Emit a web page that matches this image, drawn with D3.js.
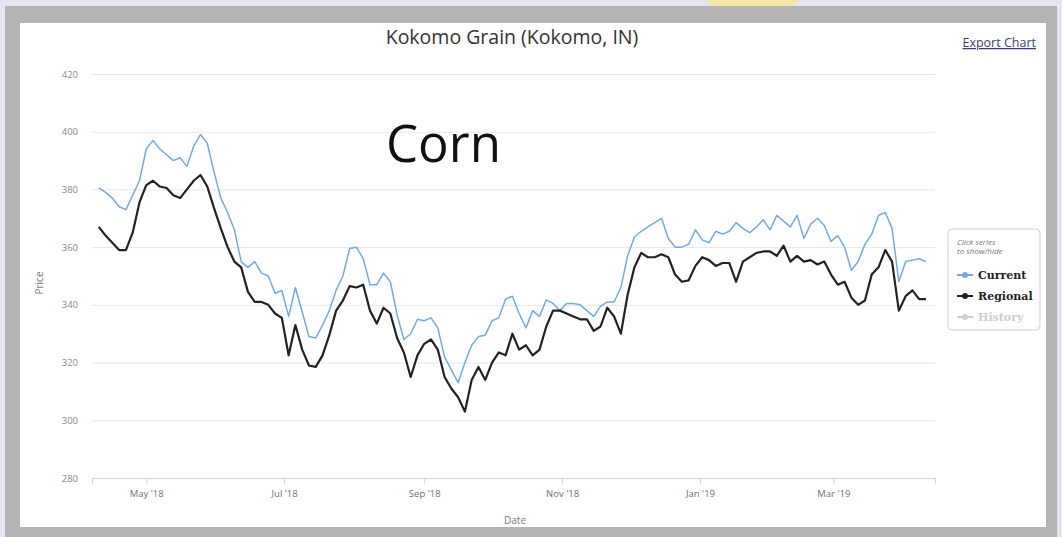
<!DOCTYPE html>
<html>
<head>
<meta charset="utf-8">
<script src="https://cdn.jsdelivr.net/npm/d3@7/dist/d3.min.js"></script>
<style>
  html, body { margin: 0; padding: 0; background: #e5e5f1; }
  svg { display: block; }
</style>
</head>
<body>
<svg id="chart" width="1062" height="537"></svg>
<script>
// trading dates (sampled every 3 days)
const dates = [
  '2018-04-10','2018-04-13','2018-04-16','2018-04-19','2018-04-22','2018-04-25','2018-04-28',
  '2018-05-01','2018-05-04','2018-05-07','2018-05-10','2018-05-13','2018-05-16','2018-05-19',
  '2018-05-22','2018-05-25','2018-05-28','2018-05-31','2018-06-03','2018-06-06','2018-06-09',
  '2018-06-12','2018-06-15','2018-06-18','2018-06-21','2018-06-24','2018-06-27','2018-06-30',
  '2018-07-03','2018-07-06','2018-07-09','2018-07-12','2018-07-15','2018-07-18','2018-07-21',
  '2018-07-24','2018-07-27','2018-07-30','2018-08-02','2018-08-05','2018-08-08','2018-08-11',
  '2018-08-14','2018-08-17','2018-08-20','2018-08-23','2018-08-26','2018-08-29','2018-09-01',
  '2018-09-04','2018-09-07','2018-09-10','2018-09-13','2018-09-16','2018-09-19','2018-09-22',
  '2018-09-25','2018-09-28','2018-10-01','2018-10-04','2018-10-07','2018-10-10','2018-10-13',
  '2018-10-16','2018-10-19','2018-10-22','2018-10-25','2018-10-28','2018-10-31','2018-11-03',
  '2018-11-06','2018-11-09','2018-11-12','2018-11-15','2018-11-18','2018-11-21','2018-11-24',
  '2018-11-27','2018-11-30','2018-12-03','2018-12-06','2018-12-09','2018-12-12','2018-12-15',
  '2018-12-18','2018-12-21','2018-12-24','2018-12-27','2018-12-30','2019-01-02','2019-01-05',
  '2019-01-08','2019-01-11','2019-01-14','2019-01-17','2019-01-20','2019-01-23','2019-01-26',
  '2019-01-29','2019-02-01','2019-02-04','2019-02-07','2019-02-10','2019-02-13','2019-02-16',
  '2019-02-19','2019-02-22','2019-02-25','2019-02-28','2019-03-03','2019-03-06','2019-03-09',
  '2019-03-12','2019-03-15','2019-03-18','2019-03-21','2019-03-24','2019-03-27','2019-03-30',
  '2019-04-02','2019-04-05','2019-04-08','2019-04-11'
]

const current = [
  380.5, 379, 377, 374, 373, 378, 383,
  394, 397, 394, 392, 390, 391, 388,
  395, 399, 396, 386, 377, 372, 366,
  355, 353, 355, 351, 350, 344, 345,
  336, 346, 337.5, 329, 328.5, 333, 338,
  345, 350, 359.5, 360, 356, 347, 347,
  351, 348, 336.5, 328, 330, 335, 334.5,
  335.5, 332, 322, 317.5, 313, 320, 326,
  329, 329.5, 334.5, 335.5, 342, 343, 337,
  332, 338, 336, 341.7, 340.5, 338, 340.5,
  340.5, 340, 338, 336, 339.5, 341, 341,
  346, 357, 363.5, 365.5, 367, 368.5, 370,
  363, 360, 360, 361, 366, 362.5, 361.5,
  365.5, 364.5, 365.5, 368.5, 366.5, 365, 367,
  369.5, 366, 371, 369, 367, 371, 363,
  368, 370, 367.5, 362, 364, 360, 352,
  355, 361, 364.5, 371, 372, 366.5, 348,
  355, 355.5, 356, 355
]

const regional = [
  367, 364, 361.5, 359, 359, 365, 375.5,
  381.5, 383, 381, 380.5, 378, 377, 380,
  383, 385, 381, 373.5, 366.5, 360, 355,
  353, 344.5, 341, 341, 340, 337, 335.5,
  322.5, 333, 324.5, 319, 318.5, 322.5, 329.5,
  338, 341.5, 346.5, 346, 347, 338, 333.5,
  339, 337, 328.5, 323.5, 315, 322.5, 326.5,
  328, 324.5, 315, 311, 308, 303, 314,
  318.5, 314, 320, 323.5, 322.5, 330, 324.5,
  326, 322.5, 324.5, 332.5, 338, 338, 337,
  336, 335, 335, 331, 332.5, 339, 336,
  330, 343.5, 353, 358, 356.5, 356.5, 357.5,
  356.5, 350.5, 348, 348.5, 353.5, 356.5, 355.5,
  353.5, 354.5, 354.5, 348, 355, 356.5, 358,
  358.5, 358.5, 357, 360.5, 355, 357, 355,
  355.5, 354, 355, 350.5, 347, 348, 342.5,
  340, 341.5, 350.5, 353, 359, 355, 338,
  343, 345, 342, 342
]

const yTicks = [280, 300, 320, 340, 360, 380, 400, 420]
const xTicks = ['2018-05-01','2018-07-01','2018-09-01','2018-11-01','2019-01-01','2019-03-01']
const legendItems = ['Current', 'Regional', 'History']
const legendColors = ['#74aae2', '#222222', '#cfcfcf']

const parse = d3.timeParse('%Y-%m-%d')
const svg = d3.select('#chart')

// photo frame around the screen
svg.append('path')
  .attr('d', 'M705,0 L800,0 L792,6 L715,6 Z')
  .attr('fill', '#f3e6a6')
svg.append('rect').attr('x', 5).attr('y', 6).attr('width', 1052).attr('height', 540).attr('fill', '#b4b4b4')
svg.append('rect').attr('x', 20).attr('y', 23).attr('width', 1026).attr('height', 504).attr('fill', '#ffffff')

const plot = { left: 92, right: 935, top: 74, bottom: 478 }

const xScale = d3.scaleTime()
  .domain([parse('2018-04-07'), parse('2019-04-15')])
  .range([plot.left, plot.right])

const yScale = d3.scaleLinear()
  .domain([280, 420])
  .range([plot.bottom, plot.top])

// gridlines + y labels
const yAxis = d3.axisLeft(yScale).tickValues(yTicks).tickSize(-(plot.right - plot.left)).tickPadding(14)
const yAxisGroup = svg.append('g').attr('class', 'y-axis')
  .attr('transform', `translate(${plot.left}, 0)`)
  .call(yAxis)
yAxisGroup.select('.domain').remove()
yAxisGroup.selectAll('.tick line').attr('stroke', '#e6e6e6')
yAxisGroup.selectAll('.tick text')
  .attr('fill', '#8a8a8a')
  .style('font', '9.5px "Open Sans", sans-serif')

// x axis
const xAxis = d3.axisBottom(xScale)
  .tickValues(xTicks.map(parse))
  .tickFormat(d3.timeFormat("%b '%y"))
  .tickSize(6)
  .tickPadding(6)
const xAxisGroup = svg.append('g').attr('class', 'x-axis')
  .attr('transform', `translate(0, ${plot.bottom})`)
  .call(xAxis)
xAxisGroup.select('.domain').attr('stroke', '#d4d4d4')
xAxisGroup.selectAll('.tick line').attr('stroke', '#d4d4d4')
xAxisGroup.selectAll('.tick text')
  .attr('fill', '#6f6f6f')
  .style('font', '9.5px "Open Sans", sans-serif')

// lines
const line = d3.line()
  .x((d, i) => xScale(parse(dates[i])))
  .y(d => yScale(d))
  .curve(d3.curveLinear)

svg.append('path').datum(current)
  .attr('fill', 'none')
  .attr('stroke', legendColors[0])
  .attr('stroke-width', 1.5)
  .attr('stroke-linejoin', 'round')
  .attr('d', line)

svg.append('path').datum(regional)
  .attr('fill', 'none')
  .attr('stroke', legendColors[1])
  .attr('stroke-width', 2.2)
  .attr('stroke-linejoin', 'round')
  .attr('d', line)

// titles
svg.append('text')
  .attr('x', 512).attr('y', 44)
  .attr('text-anchor', 'middle')
  .attr('fill', '#333')
  .style('font', '19.5px "Open Sans", sans-serif')
  .text('Kokomo Grain (Kokomo, IN)')

svg.append('text')
  .attr('x', 1036).attr('y', 47)
  .attr('text-anchor', 'end')
  .attr('fill', '#3b3f72')
  .attr('text-decoration', 'underline')
  .style('font', '12.5px "Open Sans", sans-serif')
  .text('Export Chart')

svg.append('text')
  .attr('x', 386).attr('y', 162)
  .attr('fill', '#111')
  .style('font', '51px "Open Sans", sans-serif')
  .text('Corn')

svg.append('text')
  .attr('transform', 'translate(43, 283) rotate(-90)')
  .attr('text-anchor', 'middle')
  .attr('fill', '#7a7a7a')
  .style('font', '10px "Open Sans", sans-serif')
  .text('Price')

svg.append('text')
  .attr('x', 515).attr('y', 524)
  .attr('text-anchor', 'middle')
  .attr('fill', '#7a7a7a')
  .style('font', '10px "Open Sans", sans-serif')
  .text('Date')

// legend
const legend = svg.append('g').attr('transform', 'translate(948, 229)')
legend.append('rect')
  .attr('width', 92).attr('height', 101).attr('rx', 4)
  .attr('fill', '#fff').attr('stroke', '#cfcfcf')
legend.selectAll('.hint')
  .data(['Click series', 'to show/hide'])
  .join('text')
  .attr('x', 9).attr('y', (d, i) => 16 + i * 9)
  .attr('fill', '#777')
  .style('font', 'italic 8px "Open Sans", sans-serif')
  .text(d => d)

const item = legend.selectAll('.item')
  .data(legendItems)
  .join('g')
  .attr('transform', (d, i) => `translate(9, ${46 + i * 21})`)
item.append('line')
  .attr('x1', 0).attr('x2', 16)
  .attr('stroke', (d, i) => legendColors[i])
  .attr('stroke-width', 2)
item.append('circle')
  .attr('cx', 8).attr('r', 3)
  .attr('fill', (d, i) => legendColors[i])
item.append('text')
  .attr('x', 21).attr('y', 4)
  .attr('fill', (d, i) => i === 2 ? '#cfcfcf' : '#222')
  .style('font', 'bold 11px "DejaVu Serif", serif')
  .text(d => d)
</script>
</body>
</html>
